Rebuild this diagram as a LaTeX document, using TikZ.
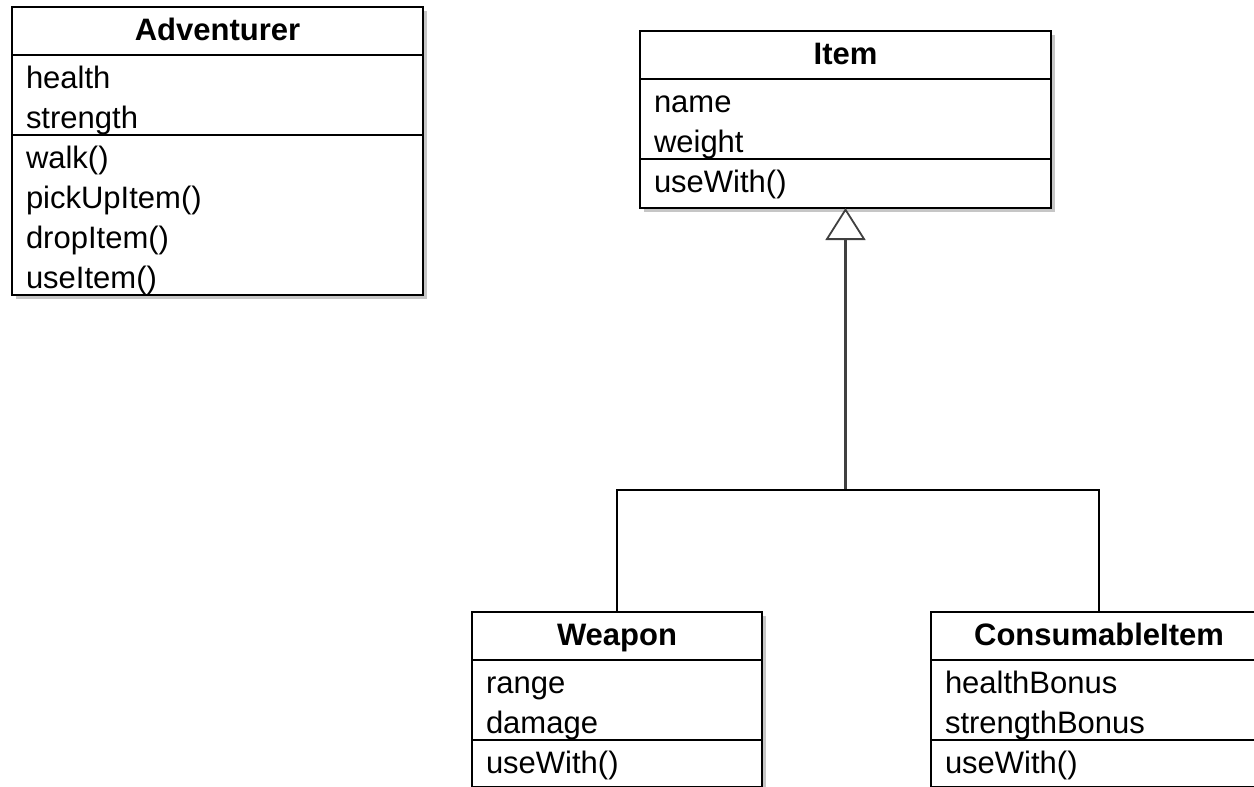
\documentclass[tikz,border=0pt]{standalone}
\usepackage{fontspec}
\setmainfont{Liberation Sans}
\usetikzlibrary{
    arrows.meta,
    positioning,
    shadows
}
\newcommand{\umlfont}{\fontsize{31pt}{40pt}\selectfont}
\tikzset{umlbox/.style={draw=black, line width=2.5pt, fill=white, outer sep=0pt, inner xsep=14pt, inner ysep=0pt, text height=33pt, drop shadow={shadow xshift=4pt, shadow yshift=-4pt, opacity=0.45}}}
\tikzset{cname/.style={umlbox, font=\umlfont\bfseries, text depth=15pt, align=center}}
\tikzset{cpart/.style={umlbox, font=\umlfont, text depth=#1, align=left}}
\tikzset{genline/.style={line width=2.2pt, draw=black!75, -{Triangle[open, length=32pt, width=40pt, line width=1.8pt]}}}
\tikzset{barline/.style={line width=2.5pt, draw=black}}

\begin{document}
\begin{tikzpicture}[x=1pt, y=-1pt]
                        \useasboundingbox (0,0) rectangle (1254,787);

                        \node[cname, text width=383pt, anchor=north west] (adv) at (12, 7) {Adventurer};
                        \node[cpart=47pt, text width=383pt, below=0pt of adv] (adv-attr) {health\\strength};
                        \node[cpart=127pt, text width=383pt, below=0pt of adv-attr] (adv-ops) {walk()\\pickUpItem()\\dropItem()\\useItem()};

                        \node[cname, text width=383pt, anchor=north west] (item) at (640, 31) {Item};
                        \node[cpart=47pt, text width=383pt, below=0pt of item] (item-attr) {name\\weight};
                        \node[cpart=16pt, text width=383pt, below=0pt of item-attr] (item-ops) {useWith()};

                        \node[cname, text width=262pt, anchor=north west] (weapon) at (472, 612) {Weapon};
                        \node[cpart=47pt, text width=262pt, below=0pt of weapon] (weapon-attr) {range\\damage};
                        \node[cpart=14pt, text width=262pt, below=0pt of weapon-attr] (weapon-ops) {useWith()};

                        \node[cname, text width=308pt, anchor=north west] (cons) at (931, 612) {ConsumableItem};
                        \node[cpart=47pt, text width=308pt, below=0pt of cons] (cons-attr) {healthBonus\\strengthBonus};
                        \node[cpart=14pt, text width=308pt, below=0pt of cons-attr] (cons-ops) {useWith()};

                        \coordinate (join) at (item-ops.south |- 0, 490);

                        \draw[genline] (join) -- (item-ops.south);
                        \draw[barline] (weapon.north) |- (join) -| (cons.north);
                    \end{tikzpicture}
\end{document}
